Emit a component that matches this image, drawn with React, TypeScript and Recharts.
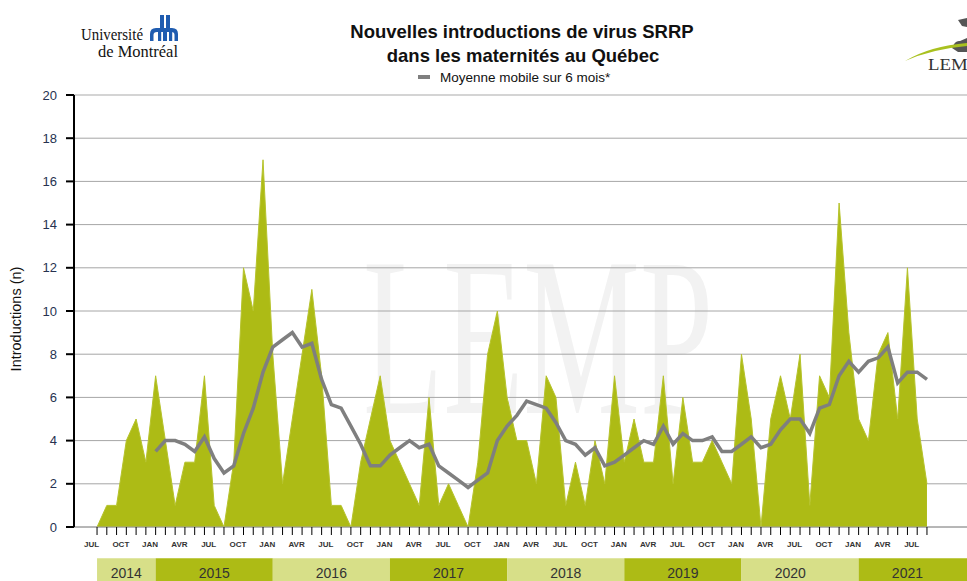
import {
  Area,
  CartesianGrid,
  ComposedChart,
  Line,
  ReferenceArea,
  ReferenceDot,
  ReferenceLine,
  XAxis,
  YAxis,
} from "recharts";

// monthly new introductions, JUL 2014 -> AOÛ 2021
const introductions = [
  0, 1, 1, 4, 5, 3, 7, 4, 1, 3, 3, 7, 1, 0, 3, 12, 10, 17, 8, 2, 5, 8, 11, 7, 1, 1,
  0, 3, 5, 7, 4, 3, 2, 1, 6, 1, 2, 1, 0, 3, 8, 10, 6, 4, 4, 2, 7, 6, 1, 3, 1, 4, 2,
  7, 3, 5, 3, 3, 7, 2, 6, 3, 3, 4, 3, 2, 8, 5, 0, 5, 7, 5, 8, 1, 7, 6, 15, 9, 5, 4,
  8, 9, 5, 12, 5, 2,
];

// 6-month moving average (starts JAN 2015)
const movingAverage = [
  null, null, null, null, null, null,
  3.5, 4, 4, 3.83, 3.5, 4.17, 3.17, 2.5, 2.83, 4.33, 5.5, 7.17, 8.33, 8.67, 9, 8.33,
  8.5, 6.83, 5.67, 5.5, 4.67, 3.83, 2.83, 2.83, 3.33, 3.67, 4, 3.67, 3.83, 2.83, 2.5,
  2.17, 1.83, 2.17, 2.5, 4, 4.67, 5.17, 5.83, 5.67, 5.5, 4.83, 4, 3.83, 3.33, 3.67,
  2.83, 3, 3.33, 3.67, 4, 3.83, 4.67, 3.83, 4.33, 4, 4, 4.17, 3.5, 3.5, 3.83, 4.17,
  3.67, 3.83, 4.5, 5, 5, 4.33, 5.5, 5.67, 7, 7.67, 7.17, 7.67, 7.83, 8.33, 6.67, 7.17,
  7.17, 6.83,
];

// one label every 3 months
const tickLabels = [
  "JUL", "OCT", "JAN", "AVR", "JUL", "OCT", "JAN", "AVR", "JUL", "OCT", "JAN", "AVR",
  "JUL", "OCT", "JAN", "AVR", "JUL", "OCT", "JAN", "AVR", "JUL", "OCT", "JAN", "AVR",
  "JUL", "OCT", "JAN", "AVR", "JUL",
];

const years = ["2014", "2015", "2016", "2017", "2018", "2019", "2020", "2021"];
const yearStart = [0, 6, 18, 30, 42, 54, 66, 78];
const yearEnd = [6, 18, 30, 42, 54, 66, 78, 92];
const yearLabelAt = [3, 12, 24, 36, 48, 60, 71, 83];

const yTicks = [0, 2, 4, 6, 8, 10, 12, 14, 16, 18, 20];

const data = introductions.map((n, i) => ({ i, n, ma: movingAverage[i] }));
const monthTicks = data.map((d) => d.i);

const GREEN = "#adbb15";
const LIGHT_GREEN = "#d7df88";
const FONT = '"Liberation Sans", Arial, sans-serif';

function MonthTick(props: any) {
  const { x, y, payload } = props;
  const v = payload.value as number;
  if (v % 3 !== 0) return null;
  return (
    <text
      x={x - 5.5}
      y={y}
      dy="0.71em"
      textAnchor="middle"
      fontSize={8}
      fontWeight="bold"
      fill="#333"
      fontFamily={FONT}
    >
      {tickLabels[v / 3]}
    </text>
  );
}

export default function App() {
  return (
    <div
      style={{
        position: "fixed",
        left: 0,
        top: 0,
        width: 967,
        height: 581,
        overflow: "hidden",
        background: "#fff",
        fontFamily: FONT,
      }}
    >
      {/* watermark */}
      <svg width={967} height={581} style={{ position: "absolute", left: 0, top: 0 }}>
        <text
          x={363}
          y={413}
          fontSize={227}
          fontFamily='"Liberation Serif", serif'
          fill="#f2f2f2"
          textLength={350}
          lengthAdjust="spacingAndGlyphs"
        >
          LEMP
        </text>
      </svg>

      <div style={{ position: "absolute", left: 0, top: 0 }}>
        <ComposedChart
          width={967}
          height={581}
          data={data}
          margin={{ top: 95, right: 0, bottom: 0, left: 0 }}
        >
          <CartesianGrid horizontal vertical={false} stroke="#a6a6a6" />
          <ReferenceLine y={20} stroke="#d4d4d4" strokeWidth={2} />
          <XAxis
            dataKey="i"
            type="number"
            domain={[-2.36, 89.1]}
            allowDataOverflow
            ticks={monthTicks}
            interval={0}
            height={54}
            axisLine={{ stroke: "#9a9a9a" }}
            tickLine={{ stroke: "#000" }}
            tickSize={8}
            tickMargin={6}
            tick={<MonthTick />}
          />
          <YAxis
            type="number"
            domain={[0, 20]}
            allowDataOverflow
            ticks={yTicks}
            interval={0}
            width={74}
            axisLine={{ stroke: "#000", strokeWidth: 2 }}
            tickLine={{ stroke: "#000", strokeWidth: 2 }}
            tickSize={8}
            tickMargin={9}
            tick={{ fill: "#263250", fontSize: 13, fontFamily: FONT }}
          />
          {years.map((yr, k) => (
            <ReferenceArea
              key={`band-${yr}`}
              x1={yearStart[k]}
              x2={yearEnd[k]}
              y1={-1.45}
              y2={-3.0}
              ifOverflow="visible"
              fill={k % 2 === 0 ? LIGHT_GREEN : GREEN}
              fillOpacity={1}
              stroke="none"
            />
          ))}
          {years.map((yr, k) => (
            <ReferenceDot
              key={`lbl-${yr}`}
              x={yearLabelAt[k]}
              y={-2.13}
              ifOverflow="visible"
              shape={(p: any) => (
                <text
                  x={p.cx}
                  y={p.cy}
                  dy="0.36em"
                  textAnchor="middle"
                  fontSize={14}
                  fill="#333"
                  fontFamily={FONT}
                >
                  {yr}
                </text>
              )}
            />
          ))}
          <Area
            type="linear"
            dataKey="n"
            fill={GREEN}
            fillOpacity={1}
            stroke="#b6c32c"
            strokeWidth={1}
            baseValue={0}
            dot={false}
            activeDot={false}
            isAnimationActive={false}
          />
          <Line
            type="linear"
            dataKey="ma"
            stroke="#7f7f7f"
            strokeWidth={3.5}
            dot={false}
            activeDot={false}
            isAnimationActive={false}
          />
        </ComposedChart>
      </div>

      {/* titles, legend, logos */}
      <svg
        width={967}
        height={581}
        style={{ position: "absolute", left: 0, top: 0, pointerEvents: "none" }}
      >
        <text x={522} y={38} textAnchor="middle" fontSize={18.5} fontWeight="bold" fill="#111" fontFamily={FONT}>
          Nouvelles introductions de virus SRRP
        </text>
        <text x={523} y={62} textAnchor="middle" fontSize={18.5} fontWeight="bold" fill="#111" fontFamily={FONT}>
          dans les maternités au Québec
        </text>
        <line x1={418} x2={430} y1={77} y2={77} stroke="#7f7f7f" strokeWidth={4} />
        <text x={440} y={81.5} fontSize={13.5} fill="#111" fontFamily={FONT}>
          Moyenne mobile sur 6 mois*
        </text>
        <text
          transform="translate(21,319) rotate(-90)"
          textAnchor="middle"
          fontSize={14.5}
          fill="#111"
          fontFamily={FONT}
        >
          Introductions (n)
        </text>

        {/* Université de Montréal */}
        <text x={81} y={40} fontSize={17} fontFamily='"Liberation Serif", serif' fill="#111" textLength={62} lengthAdjust="spacingAndGlyphs">
          Université
        </text>
        <text x={98} y={57} fontSize={17} fontFamily='"Liberation Serif", serif' fill="#111" textLength={80} lengthAdjust="spacingAndGlyphs">
          de Montréal
        </text>
        <g fill="#1f5cb0">
          <rect x={160} y={15} width={4} height={15} />
          <rect x={166} y={15} width={4} height={15} />
          <path d="M150 41 V34 Q150 28 156 28 H172 Q178 28 178 34 V41 H174.5 V35 Q174.5 32 171.5 32 H167 V41 H163 V32 H157 Q153.5 32 153.5 35 V41 Z" />
          <rect x={158} y={32} width={3.2} height={9} />
          <rect x={169} y={32} width={3.2} height={9} />
        </g>

        {/* LEMP logo (cropped) */}
        <path d="M958 20 L967 18 L967 27 L962 26 Z" fill="#555" />
        <path d="M952 48 Q955 40 960 41 L967 38 L967 52 L958 52 Z" fill="#555" />
        <path d="M905 61 Q930 46 967 43 L967 46 Q932 49 905 61 Z" fill="#a9c11f" />
        <text x={928} y={70} fontSize={16} fontFamily='"Liberation Serif", serif' fill="#333" textLength={50} lengthAdjust="spacingAndGlyphs">
          LEMP
        </text>
      </svg>
    </div>
  );
}
